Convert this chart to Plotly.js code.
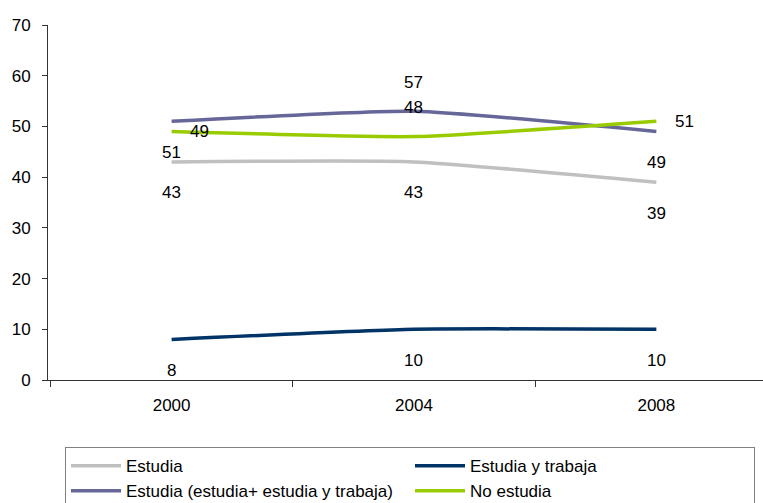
<!DOCTYPE html>
<html>
<head>
<meta charset="utf-8">
<script src="https://cdn.plot.ly/plotly-3.0.1.min.js"></script>
<style>
  html, body { margin: 0; padding: 0; background: #fff; }
  #chart { width: 763px; height: 503px; }
</style>
</head>
<body>
<div id="chart"></div>
<script>
// Data
const years = ['2000', '2004', '2008'];

const estudia = [43, 43, 39];
const estudiaTrabaja = [8, 10, 10];
const estudiaTotal = [51, 53, 49];
const noEstudia = [49, 48, 51];

// Data labels as printed on the chart
const estudiaLbl = [43, 43, 39];
const estudiaTrabajaLbl = [8, 10, 10];
const estudiaTotalLbl = [51, 57, 49];
const noEstudiaLbl = [49, 48, 51];

// Where each label sits relative to its point
const estudiaPos = ['below', 'below', 'below'];
const estudiaTrabajaPos = ['below', 'below', 'below'];
const estudiaTotalPos = ['below', 'above', 'below'];
const noEstudiaPos = ['right', 'above', 'right'];

const series = [
    {name: 'Estudia', y: estudia, lbl: estudiaLbl, pos: estudiaPos, color: '#C0C0C0'},
    {name: 'Estudia y trabaja', y: estudiaTrabaja, lbl: estudiaTrabajaLbl, pos: estudiaTrabajaPos, color: '#003366'},
    {name: 'Estudia (estudia+ estudia y trabaja)', y: estudiaTotal, lbl: estudiaTotalLbl, pos: estudiaTotalPos, color: '#666699'},
    {name: 'No estudia', y: noEstudia, lbl: noEstudiaLbl, pos: noEstudiaPos, color: '#99CC00'}
];

const shifts = {
    below: {xshift: 0, yshift: -31},
    above: {xshift: 0, yshift: 29},
    right: {xshift: 28, yshift: 0}
};

const traces = series.map(s => ({
    x: years,
    y: s.y,
    name: s.name,
    type: 'scatter',
    mode: 'lines',
    line: {color: s.color, width: 3.5, shape: 'spline', smoothing: 0.5},
    hoverinfo: 'skip'
}));

const annotations = [];
series.forEach(s => {
    s.y.forEach((v, i) => {
        const sh = shifts[s.pos[i]];
        annotations.push({
            x: i, y: v, xref: 'x', yref: 'y',
            text: String(s.lbl[i]),
            showarrow: false,
            xshift: sh.xshift, yshift: sh.yshift,
            font: {size: 17, color: '#000'}
        });
    });
});

const layout = {
    width: 763,
    height: 503,
    margin: {l: 48, r: 0, t: 25, b: 123},
    paper_bgcolor: '#fff',
    plot_bgcolor: '#fff',
    font: {family: 'Liberation Sans, Arial, sans-serif', size: 17, color: '#000'},
    showlegend: true,
    xaxis: {
        type: 'category',
        range: [-0.51, 2.44],
        tickson: 'boundaries',
        ticks: 'outside',
        ticklen: 6,
        tickcolor: '#333',
        ticklabelstandoff: 10,
        showline: true,
        linecolor: '#333',
        linewidth: 1,
        showgrid: false,
        zeroline: false,
        fixedrange: true
    },
    yaxis: {
        range: [0, 70],
        dtick: 10,
        ticks: 'outside',
        ticklen: 5,
        tickcolor: '#333',
        ticklabelstandoff: 8,
        showline: true,
        linecolor: '#333',
        linewidth: 1,
        showgrid: false,
        zeroline: false,
        fixedrange: true
    },
    legend: {
        orientation: 'h',
        xref: 'container',
        yref: 'container',
        x: 0.0852,
        xanchor: 'left',
        y: 0.111,
        yanchor: 'top',
        entrywidth: 279,
        entrywidthmode: 'pixels',
        itemwidth: 50,
        bordercolor: '#808080',
        borderwidth: 1,
        bgcolor: '#fff',
        font: {size: 17, color: '#000'},
        traceorder: 'normal'
    },
    annotations: annotations
};

Plotly.newPlot('chart', traces, layout, {displayModeBar: false});
</script>
</body>
</html>
